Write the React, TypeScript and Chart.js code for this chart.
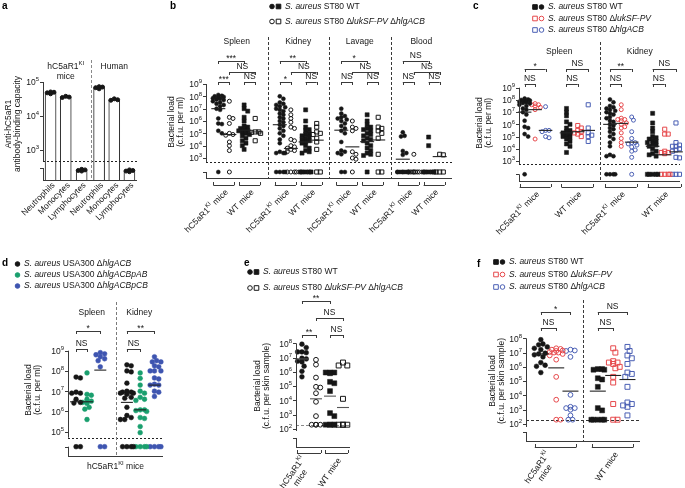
import React, { useEffect, useRef } from 'react';
import { Chart, registerables } from 'chart.js';
Chart.register(...registerables);

const W = 685;
const H = 488;
const FONT = '"Liberation Sans", Arial, Helvetica, sans-serif';
const INK = '#161616';
const LINE = '#3a3a3a';
const RED = '#e6484b';
const BLUE = '#4a5fb4';
const GREEN = '#1a9f6e';
const DBLUE = '#3e55b0';
const FS = 8.5;

// ================= DATA =================
// Panel a – antibody-binding capacity
const aCells = ['Neutrophils', 'Monocytes', 'Lymphocytes'];
const aMouseMeans = [4.8e4, 3.6e4, 2.6e2];
const aHumanMeans = [6.8e4, 3.0e4, 2.5e2];
const aMouseReps = [[4.5e4, 5.1e4, 4.8e4, 5.0e4], [3.5e4, 3.8e4, 3.6e4], [2.4e2, 2.7e2, 2.6e2, 2.5e2]];
const aHumanReps = [[6.3e4, 7.1e4, 6.8e4, 7.3e4], [2.9e4, 3.2e4, 3.0e4], [2.3e2, 2.6e2, 2.5e2, 2.4e2]];
const aTicks = [3, 4, 5];

// Panel b – ST80 WT vs ΔlukSF-PV ΔhlgACB (order: hC5aR1 WT, hC5aR1 mut, WT WT, WT mut)
const bTissues = ['Spleen', 'Kidney', 'Lavage', 'Blood'];
const bTicks = [3, 4, 5, 6, 7, 8, 9];
const bSpleenKiWt = [1.3e8, 1.1e8, 1e8, 9e7, 8e7, 7e7, 6.3e7, 5.6e7, 5e7, 4e7, 3.2e7, 2.5e7, 2e7, 1.6e7, 1e7, 8e6, 1.6e6, 6.3e5, 5.6e5, 1.6e5, 1e5, 0];
const bSpleenKiMut = [4e7, 2e6, 1.6e6, 6.3e5, 1e5, 8e4, 7e4, 2e4, 1e4, 4e3, 0];
const bSpleenWtWt = [2e7, 1e7, 6.3e6, 2e6, 1e6, 4e5, 3.2e5, 2.5e5, 2e5, 1.6e5, 1.6e5, 1.3e5, 1e5, 8e4, 6.3e4, 4e4, 2.5e4, 1.6e4, 1e4, 5e3];
const bSpleenWtMut = [1.6e6, 1.3e5, 1.3e5, 1.2e5, 1e5, 2.5e4];
const bSpleenMed = [1e7, 8e4, 1.8e5, 1.3e5];
const bKidneyKiWt = [1e8, 6.3e7, 3.2e7, 2.5e7, 2e7, 1.6e7, 1.3e7, 1e7, 8e6, 6.3e6, 4e6, 3.2e6, 2e6, 1.6e6, 1e6, 8e5, 5e5, 4e5, 2.5e5, 1.6e5, 1e5, 6.3e4, 3.2e4, 1.6e4, 3.2e3, 2.5e3, 2.5e3, 2.5e3, 0, 0, 0, 0];
const bKidneyKiMut = [8e6, 3.2e6, 1.6e6, 8e5, 3.2e5, 2.5e5, 3.2e4, 2.5e4, 1e4, 8e3, 6.3e3, 5e3, 4e3, 3.2e3, 0, 0, 0, 0];
const bKidneyWtWt = [8e6, 1e6, 3.2e5, 2e5, 1.6e5, 1e5, 8e4, 6.3e4, 5e4, 4e4, 3.2e4, 2.5e4, 2e4, 1.6e4, 1e4, 6.3e3, 4e3, 3.2e3, 2.5e3, 0, 0, 0, 0, 0];
const bKidneyWtMut = [6.3e5, 3.2e5, 1.3e5, 1e5, 8e4, 4e4, 2e4, 5e3, 0, 0];
const bKidneyMed = [5e5, 6e3, 2e4, 2.8e4];
const bLavageKiWt = [1e7, 4e6, 2.5e6, 2e6, 1.6e6, 1.3e6, 1e6, 6.3e5, 4e5, 2.5e5, 1.6e5, 1e5, 2e4, 4e3, 3.2e3, 2.5e3, 2e3, 0, 0];
const bLavageKiMut = [1e6, 3.2e5, 2.5e5, 1.6e5, 3.2e3, 2e3, 1e3, 8e2, 0];
const bLavageWtWt = [3.2e6, 1e6, 5e5, 3.2e5, 2.5e5, 2e5, 1.6e5, 1e5, 8e4, 6.3e4, 4e4, 3.2e4, 2.5e4, 1.6e4, 1e4, 6.3e3, 4e3, 2.5e3, 2e3, 1.6e3, 0];
const bLavageWtMut = [2e6, 3.2e5, 2.5e5, 1.6e5, 1e5, 4e4, 2e3, 0, 0];
const bLavageMed = [1.8e5, 8e3, 2.1e4, 2.9e4];
const bBloodKiWt = [1.2e5, 6.3e4, 5.6e4, 3.7e3, 2.5e3, 1.8e3, 0, 0, 0, 0, 0, 0, 0, 0, 0, 0];
const bBloodKiMut = [2e3, 0, 0, 0, 0, 0, 0, 0, 0];
const bBloodWtWt = [5e4, 1e4, 0, 0, 0, 0, 0];
const bBloodWtMut = [2e3, 1.8e3, 0, 0, 0];
const bBloodMed = [8e2, null, null, 1.3e3];
const bSigRow1 = ['***', '**', '*', 'NS'];
const bSigRow2 = ['NS', 'NS', 'NS', 'NS'];
const bSigRow3Ki = ['***', '*', 'NS', 'NS'];
const bSigRow3Wt = ['NS', 'NS', 'NS', 'NS'];

// Panel c – WT, ΔlukSF-PV, ΔhlgACB (hC5aR1 mice ×3, WT mice ×3)
const cTissues = ['Spleen', 'Kidney'];
const cTicks = [3, 4, 5, 6, 7, 8, 9];
const cSpleenKiWt = [1.3e8, 1.1e8, 1e8, 9e7, 8e7, 7e7, 6.3e7, 5.6e7, 5e7, 4e7, 3.2e7, 2e7, 1.6e7, 1e7, 6.3e6, 2e6, 6.3e5, 5e5, 1.6e5, 1e5, 0];
const cSpleenKiLuk = [5e7, 4e7, 4e7, 3.2e7, 2.5e7, 1.6e7, 6.3e4];
const cSpleenKiHlg = [2.8e7, 3.2e5, 3.2e5, 2.5e5, 1e5, 8e4];
const cSpleenWtWt = [2e7, 1e7, 5e6, 1.6e6, 1e6, 5e5, 3.2e5, 2.5e5, 2e5, 1.6e5, 1.3e5, 1e5, 8e4, 6.3e4, 4e4, 2.5e4, 1.6e4, 5e3];
const cSpleenWtLuk = [8e5, 5e5, 3.2e5, 2.5e5, 2e5, 1.6e5, 1e5];
const cSpleenWtHlg = [4e7, 5e5, 2e5, 1.3e5, 1e5, 4e4];
const cSpleenMed = [1e7, 1.6e7, 3.2e5, 2e5, 2.5e5, 3.2e5];
const cKidneyKiWt = [1.1e8, 6.3e7, 3.2e7, 2.5e7, 2e7, 1.6e7, 1.3e7, 1e7, 8e6, 6.3e6, 4e6, 3.2e6, 2e6, 1.6e6, 1e6, 8e5, 5e5, 4e5, 2.5e5, 1.6e5, 1e5, 6.3e4, 3.2e4, 1.6e4, 3.2e3, 2.5e3, 2.5e3, 0, 0, 0, 0];
const cKidneyKiLuk = [4e7, 1.6e7, 3.2e6, 2.5e6, 2.5e6, 2e6, 1.3e6, 1e6, 6.3e5, 5e5, 2e5, 7e4, 3.2e4, 1.6e4];
const cKidneyKiHlg = [4e6, 2.2e6, 2.5e5, 7e4, 3.2e4, 3.2e4, 2.5e4, 2e4, 1.4e4, 8e3, 6.3e3, 2e3, 0];
const cKidneyWtWt = [8e6, 1.3e6, 5e5, 2.5e5, 1e5, 8e4, 6.3e4, 5e4, 4e4, 3.2e4, 2.5e4, 2e4, 1.6e4, 1e4, 6.3e3, 4e3, 3.2e3, 2.5e3, 0, 0, 0, 0, 0];
const cKidneyWtLuk = [4e5, 1.6e5, 1.6e5, 6.3e3, 5e3, 5e3, 4e3, 0, 0, 0, 0];
const cKidneyWtHlg = [1.3e6, 3.2e4, 2e4, 1.6e4, 1.6e4, 1e4, 8e3, 6.3e3, 2e3, 1.8e3, 0, 0, 0];
const cKidneyMed = [1e6, 1.2e6, 3.5e4, 1.6e4, 3.2e3, 5.6e3];
const cSigRow1Ki = ['*', '**'];
const cSigRow1Wt = ['NS', 'NS'];
const cSigRow2Ki = ['NS', 'NS'];
const cSigRow2Wt = ['NS', 'NS'];

// Panel d – USA300 complementation
const dTissues = ['Spleen', 'Kidney'];
const dTicks = [5, 6, 7, 8, 9];
const dSpleenHlg = [5e7, 4.5e7, 9e6, 8e6, 8e6, 4e6, 2.8e6, 2.6e6, 0, 0];
const dSpleenPab = [8e7, 7e6, 6.3e6, 4e6, 3.2e6, 2.8e6, 2.5e6, 1.6e6, 1.3e6, 4e5];
const dSpleenPcb = [8e8, 7e8, 6.3e8, 5e8, 4e8, 3.2e8, 1.6e8, 0, 0];
const dSpleenMed = [3e6, 3e6, 1.1e8];
const dKidneyHlg = [2e8, 1.8e8, 1e8, 9e7, 2.5e7, 1e7, 9e6, 9e6, 8e6, 8e6, 7e6, 5e6, 4.5e6, 1.6e6, 6.3e5, 5e5, 4e5, 4e5, 0, 0, 0, 0];
const dKidneyPab = [8e7, 4.3e7, 2e7, 1e7, 8e6, 5e6, 4e6, 3.5e6, 1.2e6, 1.2e6, 1.1e6, 1e6, 5e5, 4.5e5, 1.8e5, 9e4, 0, 0, 0, 0];
const dKidneyPcb = [5e8, 3.2e8, 2.8e8, 2.8e8, 1.8e8, 1.6e8, 1e8, 1e8, 1e8, 4.5e7, 4e7, 2.2e7, 2e7, 2e7, 1e7, 9e6, 5.5e6, 0, 0, 0, 0];
const dKidneyMed = [2.8e6, 1.2e6, 2e7];
const dSigRow1 = ['*', '**'];
const dSigRow2 = ['NS', 'NS'];

// Panel e – skin, ST80 WT vs double mutant
const eTicks = [2, 3, 4, 5, 6, 7, 8];
const eLimit = 200;
const eKiWt = [8.7e7, 5e7, 2.5e7, 2.5e7, 2.2e7, 9e6, 8e6, 5.6e6, 5e6, 2.5e6, 1.1e6, 4.5e5];
const eKiMut = [7e6, 3.2e6, 4e5, 9e4, 8e4, 3.2e4, 8e3, 8e2, 0, 0, 0, 0];
const eWtWt = [9e5, 9e5, 9e5, 8e5, 2e5, 1.6e5, 4.5e4, 1.3e3, 8e2, 0, 0, 0, 0, 0];
const eWtMut = [4.5e6, 2.8e6, 2.8e6, 1.3e4, 0, 0, 0, 0];
const eMed = [8e6, 1.3e4, 2e4, 3.2e3];
const eSig = ['**', 'NS', '**', 'NS'];

// Panel f – skin, WT / ΔlukSF-PV / ΔhlgACB
const fTicks = [2, 3, 4, 5, 6, 7, 8];
const fLimit = 200;
const fKiWt = [8e7, 4e7, 3.5e7, 2.5e7, 2e7, 1.6e7, 9e6, 8e6, 7e6, 5e6, 2e6, 1.3e6, 1.1e6, 4e5];
const fKiLuk = [2e7, 1.8e7, 1.6e7, 1.4e7, 1.3e7, 1.1e7, 1e7, 1e7, 8e6, 6.3e6, 3.2e6, 2e5, 5e3, 0, 0];
const fKiHlg = [1.6e7, 1.4e7, 1.3e7, 5e6, 1.1e4, 1.6e3, 1.3e3, 1.3e3, 1e3, 4e2, 0, 0];
const fWtWt = [7e5, 7e5, 6.3e5, 6.3e5, 1.6e5, 1.3e5, 4e4, 1.3e3, 9e2, 0, 0, 0, 0, 0];
const fWtLuk = [2e7, 1e7, 2.5e6, 2e6, 2e6, 1.6e6, 1e6, 8e5, 2e5, 8e4, 2.5e3, 0, 0];
const fWtHlg = [2.5e7, 1.3e7, 6.3e6, 4e6, 1.6e6, 4e5, 3.2e5, 2e5, 4e4, 3.2e3, 2.5e3, 2e3, 1.6e3, 4e2];
const fKiMed = [8e6, 8.5e5, 2e4];
const fWtMed = [2e4, 2.5e5, 1.3e5];
const fSigRow1 = ['*', 'NS'];
const fSigRow2 = ['NS', 'NS'];

// Text
type Part = [string, string?];
const kiLabel: Part[] = [['hC5aR1'], ['KI', 's'], [' mice']];
const kiTop: Part[] = [['hC5aR1'], ['KI', 's']];
const wtLabel: Part[] = [['WT mice']];
const lgWT: Part[] = [['S. aureus', 'i'], [' ST80 WT']];
const lgDouble: Part[] = [['S. aureus', 'i'], [' ST80 \u0394'], ['lukSF-PV', 'i'], [' \u0394'], ['hlgACB', 'i']];
const lgLuk: Part[] = [['S. aureus', 'i'], [' ST80 \u0394'], ['lukSF-PV', 'i']];
const lgHlg: Part[] = [['S. aureus', 'i'], [' ST80 \u0394'], ['hlgACB', 'i']];
const lgD1: Part[] = [['S. aureus', 'i'], [' USA300 \u0394'], ['hlgACB', 'i']];
const lgD2: Part[] = [['S. aureus', 'i'], [' USA300 \u0394'], ['hlgACBpAB', 'i']];
const lgD3: Part[] = [['S. aureus', 'i'], [' USA300 \u0394'], ['hlgACBpCB', 'i']];

// ================= LAYOUT =================
function geo(p: any) {
  const ppd = (p.loPx - p.hiPx) / (p.hiLog - p.loLog);
  const logMax = p.hiLog + (p.hiPx - p.top) / ppd;
  const logMin = p.loLog - (p.bottom - p.loPx) / ppd;
  return { ...p, ppd, ppu: (p.right - p.left) / p.xMax, min: Math.pow(10, logMin), max: Math.pow(10, logMax) };
}
const GA = geo({ left: 43, right: 137, top: 80, bottom: 180, hiLog: 5, hiPx: 82, loLog: 3, loPx: 150, xMax: 6.2, r: 2.0, maxOff: 4, zero: 1, medHalf: 0 });
const GB = geo({ left: 206, right: 452, top: 83, bottom: 178, hiLog: 9, hiPx: 84, loLog: 3, loPx: 158, xMax: 4, r: 2.0, maxOff: 7, zero: Math.pow(10, 1.865), medHalf: 7 });
const GC = geo({ left: 519, right: 685, top: 87, bottom: 181, hiLog: 9, hiPx: 87.7, loLog: 3, loPx: 161, xMax: 2, r: 2.0, maxOff: 6, zero: Math.pow(10, 1.911), medHalf: 7 });
const GD = geo({ left: 68, right: 163, top: 350, bottom: 456, hiLog: 9, hiPx: 350.7, loLog: 5, loPx: 431.7, xMax: 2, r: 2.4, maxOff: 7, zero: Math.pow(10, 4.259), medHalf: 6 });
const GE = geo({ left: 296, right: 350, top: 342, bottom: 447, hiLog: 8, hiPx: 343.3, loLog: 2, loPx: 429, xMax: 1, r: 2.4, maxOff: 6, zero: eLimit, medHalf: 6 });
const GF = geo({ left: 526, right: 640, top: 337, bottom: 441, hiLog: 8, hiPx: 338.3, loLog: 2, loPx: 424, xMax: 2, r: 2.4, maxOff: 8, zero: fLimit, medHalf: 8 });

const aPositions = [0.5, 1.5, 2.55, 3.7, 4.7, 5.7];
const bOffsets = [0.2, 0.38, 0.62, 0.8];
const cOffsets = [[0.07, 0.2, 0.33, 0.59, 0.73, 0.86], [0.13, 0.27, 0.4, 0.66, 0.81, 0.95]];
const dOffsets = [[0.17, 0.4, 0.68], [0.24, 0.52, 0.82]];
const eOffsets = [0.11, 0.37, 0.63, 0.87];
const fOffsets = [0.26, 0.53, 0.78];

// ================= HELPERS =================
const X = (c: any, v: number) => c.scales.x.getPixelForValue(v);
const Y = (c: any, v: number) => c.scales.y.getPixelForValue(v);

function fontFor(flag: string, size: number) {
  const sup = flag.includes('s');
  return `${flag.includes('i') ? 'italic ' : ''}${flag.includes('b') ? 'bold ' : ''}${sup ? size * 0.7 : size}px ${FONT}`;
}
function richWidth(ctx: any, parts: Part[], size = FS) {
  let w = 0;
  for (const [t, f = ''] of parts) { ctx.font = fontFor(f, size); w += ctx.measureText(t).width; }
  return w;
}
function drawRich(ctx: any, parts: Part[], x: number, y: number, align = 'left', size = FS, rot = 0, color = INK) {
  ctx.save();
  ctx.translate(x, y);
  if (rot) ctx.rotate(rot);
  ctx.fillStyle = color;
  ctx.textBaseline = 'middle';
  ctx.textAlign = 'left';
  const total = richWidth(ctx, parts, size);
  let cx = align === 'left' ? 0 : align === 'center' ? -total / 2 : -total;
  for (const [t, f = ''] of parts) {
    ctx.font = fontFor(f, size);
    ctx.fillText(t, cx, f.includes('s') ? -size * 0.4 : 0);
    cx += ctx.measureText(t).width;
  }
  ctx.restore();
}
function seg(ctx: any, x1: number, y1: number, x2: number, y2: number, color = LINE, w = 1, dash: number[] = []) {
  ctx.save();
  ctx.strokeStyle = color; ctx.lineWidth = w; ctx.setLineDash(dash);
  if (x1 === x2) { x1 = x2 = Math.round(x1) + 0.5; }
  if (y1 === y2) { y1 = y2 = Math.round(y1) + 0.5; }
  ctx.beginPath(); ctx.moveTo(x1, y1); ctx.lineTo(x2, y2); ctx.stroke();
  ctx.restore();
}
function yAxis(c: any, ctx: any, ticks: number[], breakLog: number, lowLog: number) {
  const a = c.chartArea; const x = a.left;
  const top = Y(c, Math.pow(10, ticks[ticks.length - 1]));
  seg(ctx, x, top, x, Y(c, Math.pow(10, breakLog)));
  for (const t of ticks) {
    const y = Y(c, Math.pow(10, t));
    seg(ctx, x - 3, y, x, y);
    drawRich(ctx, [['10'], [String(t), 's']], x - 4, y + 1, 'right');
  }
  const yl = Y(c, Math.pow(10, lowLog));
  seg(ctx, x - 3, yl, x, yl);
  seg(ctx, x, yl, x, a.bottom);
  seg(ctx, x, a.bottom, a.right, a.bottom);
}
function hline(c: any, ctx: any, v: number, color: string, dash: number[]) {
  const a = c.chartArea; const y = Y(c, v);
  seg(ctx, a.left, y, a.right, y, color, 1, dash);
}
function sig(ctx: any, x1: number, x2: number, y: number, label: string) {
  seg(ctx, x1, y, x2, y); seg(ctx, x1, y, x1, y + 3); seg(ctx, x2, y, x2, y + 3);
  const star = label.includes('*');
  drawRich(ctx, [[label]], (x1 + x2) / 2, star ? y - 2.5 : y - 5.5, 'center');
}
function gbr(ctx: any, x1: number, x2: number, y: number) {
  seg(ctx, x1, y, x2, y); seg(ctx, x1, y, x1, y - 3); seg(ctx, x2, y, x2, y - 3);
}
function groupLabel45(ctx: any, x1: number, x2: number, y: number, parts: Part[]) {
  gbr(ctx, x1 - 5, x2 + 5, y);
  drawRich(ctx, parts, (x1 + x2) / 2 + 3, y + 6, 'right', FS, -Math.PI / 4);
}
function label2(ctx: any, x: number, y: number, l1: Part[], l2: Part[], ang: number) {
  ctx.save(); ctx.translate(x, y); ctx.rotate(-ang);
  const w1 = richWidth(ctx, l1);
  drawRich(ctx, l1, 0, -4.5, 'right');
  drawRich(ctx, l2, -w1 / 2, 5, 'center');
  ctx.restore();
}
function yTitle(ctx: any, lines: string[], x: number, yc: number) {
  lines.forEach((l, i) => drawRich(ctx, [[l]], x + i * 9, yc, 'center', FS, -Math.PI / 2));
}
function marker(ctx: any, x: number, y: number, shape: string, filled: boolean, color: string, r = 2.3) {
  ctx.save(); ctx.beginPath();
  if (shape === 'circle') ctx.arc(x, y, r, 0, Math.PI * 2);
  else ctx.rect(x - r, y - r, 2 * r, 2 * r);
  ctx.fillStyle = color; ctx.strokeStyle = color; ctx.lineWidth = 1;
  if (filled) ctx.fill();
  ctx.stroke(); ctx.restore();
}
function legendRow(ctx: any, x: number, y: number, marks: [string, boolean, string][], parts: Part[]) {
  marks.forEach((m, i) => marker(ctx, x + i * 6.5, y, m[0], m[1], m[2]));
  drawRich(ctx, parts, x + (marks.length - 1) * 6.5 + 6.5, y, 'left');
}
function letter(ctx: any, l: string, x: number, y: number) {
  drawRich(ctx, [[l, 'b']], x, y, 'left', 10, 0, '#000');
}

function swarm(logs: number[], ppd: number, diam: number, maxOff: number): number[] {
  const order = logs.map((_, i) => i).sort((p, q) => logs[q] - logs[p]);
  const placed: [number, number][] = [];
  const out = logs.map(() => 0);
  const step = diam / 2;
  const n = Math.floor(maxOff / step);
  for (const i of order) {
    const y = -logs[i] * ppd;
    let best = 0; let bestCost = Infinity;
    for (let k = 0; k <= 2 * n; k++) {
      const off = k === 0 ? 0 : (k % 2 ? 1 : -1) * Math.ceil(k / 2) * step;
      let cost = 0;
      for (const [px, py] of placed) {
        const d = Math.hypot(px - off, py - y);
        if (d < diam) cost += diam - d;
      }
      if (cost === 0) { best = off; bestCost = 0; break; }
      if (cost < bestCost) { bestCost = cost; best = off; }
    }
    placed.push([best, y]);
    out[i] = best;
  }
  return out;
}

type Col = { vals: number[]; x: number; shape: string; filled: boolean; color: string; med: number | null };

function colDatasets(cols: Col[], g: any, medColor = '#222') {
  const ds: any[] = [];
  cols.forEach((c) => {
    const ys = c.vals.map((v) => (v > 0 ? v : g.zero));
    const offs = swarm(ys.map((v) => Math.log10(v)), g.ppd, g.r * 2 * 0.9, g.maxOff);
    ds.push({
      type: 'scatter',
      data: ys.map((v, i) => ({ x: c.x + offs[i] / g.ppu, y: v })),
      pointStyle: c.shape,
      pointRadius: c.shape === 'rect' ? g.r * 1.45 : g.r,
      backgroundColor: c.filled ? c.color : 'rgba(255,255,255,0)',
      borderColor: c.color,
      pointBorderWidth: c.filled ? 0.5 : 1,
      borderWidth: 1,
      order: 1,
      clip: false,
    });
    if (c.med != null) {
      ds.push({
        type: 'line',
        data: [{ x: c.x - g.medHalf / g.ppu, y: c.med }, { x: c.x + g.medHalf / g.ppu, y: c.med }],
        borderColor: medColor, borderWidth: 1.1, pointRadius: 0, order: 0, clip: false,
      });
    }
  });
  return ds;
}

function makeConfig(g: any, type: string, datasets: any[], plugin: any) {
  return {
    type,
    data: { datasets },
    options: {
      responsive: false,
      animation: false,
      events: [],
      layout: { padding: { left: g.left, top: g.top, right: W - g.right, bottom: H - g.bottom } },
      plugins: { legend: { display: false }, tooltip: { enabled: false } },
      scales: {
        x: { type: 'linear', display: false, min: 0, max: g.xMax, offset: false },
        y: { type: 'logarithmic', display: false, min: g.min, max: g.max },
      },
    },
    plugins: [plugin],
  };
}

// ================= PANELS =================
function buildA() {
  const g = GA;
  const means = [...aMouseMeans, ...aHumanMeans];
  const reps = [...aMouseReps, ...aHumanReps];
  const repData: any[] = [];
  reps.forEach((vals, i) => {
    const offs = swarm(vals.map((v) => Math.log10(v)), g.ppd, 3.4, 4);
    vals.forEach((v, k) => repData.push({ x: aPositions[i] + offs[k] / g.ppu, y: v }));
  });
  const datasets = [
    { type: 'scatter', data: repData, pointRadius: g.r, backgroundColor: INK, borderColor: INK, order: 0, clip: false },
    { type: 'bar', data: means.map((v, i) => ({ x: aPositions[i], y: v })), backgroundColor: '#fff', borderColor: '#222', borderWidth: 1, barThickness: 11, order: 1 },
  ];
  const plugin = {
    id: 'decoA',
    afterDraw(c: any) {
      const ctx = c.ctx; const a = c.chartArea;
      yAxis(c, ctx, aTicks, 2.676, 2.47);
      hline(c, ctx, Math.pow(10, 2.676), '#222', [2, 2]);
      seg(ctx, X(c, 3.15), 60, X(c, 3.15), a.bottom, '#8a8a8a', 1, [3, 2]);
      drawRich(ctx, kiTop, X(c, 1.5), 67, 'center');
      drawRich(ctx, [['mice']], X(c, 1.5), 77, 'center');
      drawRich(ctx, [['Human']], X(c, 4.7), 67, 'center');
      aPositions.forEach((p, i) => drawRich(ctx, [[aCells[i % 3]]], X(c, p) + 3, a.bottom + 4, 'right', FS, -Math.PI / 4));
      yTitle(ctx, ['Anti-hC5aR1', 'antibody-binding capacity'], 9, 124);
      letter(ctx, 'a', 2, 6);
    },
  };
  return makeConfig(g, 'bar', datasets, plugin);
}

function buildB() {
  const g = GB;
  const tissues = [
    [bSpleenKiWt, bSpleenKiMut, bSpleenWtWt, bSpleenWtMut],
    [bKidneyKiWt, bKidneyKiMut, bKidneyWtWt, bKidneyWtMut],
    [bLavageKiWt, bLavageKiMut, bLavageWtWt, bLavageWtMut],
    [bBloodKiWt, bBloodKiMut, bBloodWtWt, bBloodWtMut],
  ];
  const meds = [bSpleenMed, bKidneyMed, bLavageMed, bBloodMed];
  const cols: Col[] = [];
  tissues.forEach((arrs, t) => arrs.forEach((vals, k) => cols.push({
    vals, x: t + bOffsets[k], shape: k < 2 ? 'circle' : 'rect', filled: k % 2 === 0, color: INK, med: meds[t][k],
  })));
  const plugin = {
    id: 'decoB',
    beforeDatasetsDraw(c: any) { hline(c, c.ctx, Math.pow(10, 2.68), '#222', [2, 2]); },
    afterDraw(c: any) {
      const ctx = c.ctx; const a = c.chartArea;
      yAxis(c, ctx, bTicks, 2.68, 1.865);
      for (let t = 1; t < 4; t++) seg(ctx, X(c, t), 37, X(c, t), a.bottom, LINE, 1, [3, 2]);
      bTissues.forEach((name, t) => {
        const cx = bOffsets.map((o) => X(c, t + o));
        drawRich(ctx, [[name]], X(c, t + 0.5), 42, 'center');
        sig(ctx, cx[0], cx[2], 61, bSigRow1[t]);
        sig(ctx, cx[1], cx[3], 72, bSigRow2[t]);
        sig(ctx, cx[0], cx[1], 82, bSigRow3Ki[t]);
        sig(ctx, cx[2], cx[3], 82, bSigRow3Wt[t]);
        groupLabel45(ctx, cx[0], cx[1], 185, kiLabel);
        groupLabel45(ctx, cx[2], cx[3], 185, wtLabel);
      });
      yTitle(ctx, ['Bacterial load', '(c.f.u. per ml)'], 172, 122);
      legendRow(ctx, 272, 6.5, [['circle', true, INK], ['rect', true, INK]], lgWT);
      legendRow(ctx, 272, 21.5, [['circle', false, INK], ['rect', false, INK]], lgDouble);
      letter(ctx, 'b', 170, 6);
    },
  };
  return makeConfig(g, 'scatter', colDatasets(cols, g), plugin);
}

function buildC() {
  const g = GC;
  const tissues = [
    [cSpleenKiWt, cSpleenKiLuk, cSpleenKiHlg, cSpleenWtWt, cSpleenWtLuk, cSpleenWtHlg],
    [cKidneyKiWt, cKidneyKiLuk, cKidneyKiHlg, cKidneyWtWt, cKidneyWtLuk, cKidneyWtHlg],
  ];
  const meds = [cSpleenMed, cKidneyMed];
  const colors = [INK, RED, BLUE];
  const cols: Col[] = [];
  tissues.forEach((arrs, t) => arrs.forEach((vals, k) => cols.push({
    vals, x: t + cOffsets[t][k], shape: k < 3 ? 'circle' : 'rect', filled: k % 3 === 0, color: colors[k % 3], med: meds[t][k],
  })));
  const plugin = {
    id: 'decoC',
    beforeDatasetsDraw(c: any) { hline(c, c.ctx, Math.pow(10, 2.73), '#222', [2, 2]); },
    afterDraw(c: any) {
      const ctx = c.ctx; const a = c.chartArea;
      yAxis(c, ctx, cTicks, 2.73, 1.911);
      seg(ctx, X(c, 1), 42, X(c, 1), a.bottom, LINE, 1, [3, 2]);
      cTissues.forEach((name, t) => {
        const cx = cOffsets[t].map((o) => X(c, t + o));
        drawRich(ctx, [[name]], X(c, t + 0.5), 52, 'center');
        sig(ctx, cx[0], cx[2], 69, cSigRow1Ki[t]);
        sig(ctx, cx[3], cx[5], 69, cSigRow1Wt[t]);
        sig(ctx, cx[0], cx[1], 84, cSigRow2Ki[t]);
        sig(ctx, cx[3], cx[4], 84, cSigRow2Wt[t]);
        groupLabel45(ctx, cx[0], cx[2], 187, kiLabel);
        groupLabel45(ctx, cx[3], cx[5], 187, wtLabel);
      });
      yTitle(ctx, ['Bacterial load', '(c.f.u. per ml)'], 480, 123);
      legendRow(ctx, 535, 7, [['rect', true, INK], ['circle', true, INK]], lgWT);
      legendRow(ctx, 535, 18.5, [['rect', false, RED], ['circle', false, RED]], lgLuk);
      legendRow(ctx, 535, 30, [['rect', false, BLUE], ['circle', false, BLUE]], lgHlg);
      letter(ctx, 'c', 473, 6);
    },
  };
  return makeConfig(g, 'scatter', colDatasets(cols, g), plugin);
}

function buildD() {
  const g = GD;
  const tissues = [[dSpleenHlg, dSpleenPab, dSpleenPcb], [dKidneyHlg, dKidneyPab, dKidneyPcb]];
  const meds = [dSpleenMed, dKidneyMed];
  const colors = [INK, GREEN, DBLUE];
  const cols: Col[] = [];
  tissues.forEach((arrs, t) => arrs.forEach((vals, k) => cols.push({
    vals, x: t + dOffsets[t][k], shape: 'circle', filled: true, color: colors[k], med: meds[t][k],
  })));
  const plugin = {
    id: 'decoD',
    beforeDatasetsDraw(c: any) { hline(c, c.ctx, Math.pow(10, 4.704), '#222', [2, 2]); },
    afterDraw(c: any) {
      const ctx = c.ctx; const a = c.chartArea;
      yAxis(c, ctx, dTicks, 4.704, 4.259);
      seg(ctx, X(c, 1), 302, X(c, 1), a.bottom, '#7a7a7a', 1, [3, 2]);
      dTissues.forEach((name, t) => {
        const cx = dOffsets[t].map((o) => X(c, t + o));
        drawRich(ctx, [[name]], X(c, t + 0.5), 313, 'center');
        sig(ctx, cx[0], cx[2], 331, dSigRow1[t]);
        sig(ctx, cx[0], cx[1], 349, dSigRow2[t]);
      });
      drawRich(ctx, kiLabel, X(c, 1), 467, 'center');
      yTitle(ctx, ['Bacterial load', '(c.f.u. per ml)'], 29, 390);
      legendRow(ctx, 17.5, 264, [['circle', true, INK]], lgD1);
      legendRow(ctx, 17.5, 275, [['circle', true, GREEN]], lgD2);
      legendRow(ctx, 17.5, 286, [['circle', true, DBLUE]], lgD3);
      letter(ctx, 'd', 2, 263);
    },
  };
  return makeConfig(g, 'scatter', colDatasets(cols, g), plugin);
}

function buildE() {
  const g = GE;
  const arrs = [eKiWt, eKiMut, eWtWt, eWtMut];
  const cols: Col[] = arrs.map((vals, k) => ({
    vals, x: eOffsets[k], shape: k < 2 ? 'circle' : 'rect', filled: k % 2 === 0, color: INK, med: eMed[k],
  }));
  const ang = (55 * Math.PI) / 180;
  const plugin = {
    id: 'decoE',
    beforeDatasetsDraw(c: any) { hline(c, c.ctx, eLimit, '#8a8a8a', [3, 2]); },
    afterDraw(c: any) {
      const ctx = c.ctx;
      yAxis(c, ctx, eTicks, 1.86, 1.37);
      const cx = eOffsets.map((o) => X(c, o));
      sig(ctx, cx[0], cx[2], 301, eSig[0]);
      sig(ctx, cx[1], cx[3], 318, eSig[1]);
      sig(ctx, cx[0], cx[1], 335, eSig[2]);
      sig(ctx, cx[2], cx[3], 335, eSig[3]);
      gbr(ctx, cx[0] - 5, cx[1] + 5, 453);
      gbr(ctx, cx[2] - 5, cx[3] + 5, 453);
      label2(ctx, (cx[0] + cx[1]) / 2 - 2, 460, kiTop, [['mice']], ang);
      drawRich(ctx, wtLabel, (cx[2] + cx[3]) / 2 + 3, 459, 'right', FS, -ang);
      yTitle(ctx, ['Bacterial load', '(c.f.u. per skin sample)'], 258, 386);
      legendRow(ctx, 250, 272, [['circle', true, INK], ['rect', true, INK]], lgWT);
      legendRow(ctx, 250, 288, [['circle', false, INK], ['rect', false, INK]], lgDouble);
      letter(ctx, 'e', 244, 263);
    },
  };
  return makeConfig(g, 'scatter', colDatasets(cols, g, '#555'), plugin);
}

function buildF() {
  const g = GF;
  const groups = [[fKiWt, fKiLuk, fKiHlg], [fWtWt, fWtLuk, fWtHlg]];
  const meds = [fKiMed, fWtMed];
  const colors = [INK, RED, BLUE];
  const cols: Col[] = [];
  groups.forEach((arrs, t) => arrs.forEach((vals, k) => cols.push({
    vals, x: t + fOffsets[k], shape: t === 0 ? 'circle' : 'rect', filled: k === 0, color: colors[k], med: meds[t][k],
  })));
  const ang = (55 * Math.PI) / 180;
  const plugin = {
    id: 'decoF',
    beforeDatasetsDraw(c: any) { hline(c, c.ctx, fLimit, '#333', [3, 2]); },
    afterDraw(c: any) {
      const ctx = c.ctx; const a = c.chartArea;
      yAxis(c, ctx, fTicks, 1.79, 1.44);
      seg(ctx, X(c, 1), 300, X(c, 1), a.bottom, LINE, 1, [3, 2]);
      [0, 1].forEach((t) => {
        const cx = fOffsets.map((o) => X(c, t + o));
        sig(ctx, cx[0], cx[2], 312, fSigRow1[t]);
        sig(ctx, cx[0], cx[1], 328, fSigRow2[t]);
        gbr(ctx, cx[0] - 6, cx[2] + 6, 447);
        if (t === 0) label2(ctx, (cx[0] + cx[2]) / 2 - 4, 455, kiTop, [['mice']], ang);
        else drawRich(ctx, wtLabel, (cx[0] + cx[2]) / 2 + 4, 453, 'right', FS, -ang);
      });
      yTitle(ctx, ['Bacterial load', '(c.f.u. per skin sample)'], 493, 381);
      legendRow(ctx, 496, 262, [['rect', true, INK], ['circle', true, INK]], lgWT);
      legendRow(ctx, 496, 274.5, [['rect', false, RED], ['circle', false, RED]], lgLuk);
      legendRow(ctx, 496, 287, [['rect', false, BLUE], ['circle', false, BLUE]], lgHlg);
      letter(ctx, 'f', 477, 264);
    },
  };
  return makeConfig(g, 'scatter', colDatasets(cols, g), plugin);
}

const builders = [buildA, buildB, buildC, buildD, buildE, buildF];

export default function App() {
  const refs = useRef<(HTMLCanvasElement | null)[]>([]);
  useEffect(() => {
    const charts = builders.map((b, i) => new Chart(refs.current[i] as HTMLCanvasElement, b() as any));
    return () => charts.forEach((ch) => ch.destroy());
  }, []);
  return (
    <div style={{ position: 'absolute', left: 0, top: 0, width: W, height: H, background: '#fff', overflow: 'hidden' }}>
      {builders.map((_, i) => (
        <canvas
          key={i}
          ref={(el) => { refs.current[i] = el; }}
          width={W}
          height={H}
          style={{ position: 'absolute', left: 0, top: 0, width: W, height: H }}
        />
      ))}
    </div>
  );
}
